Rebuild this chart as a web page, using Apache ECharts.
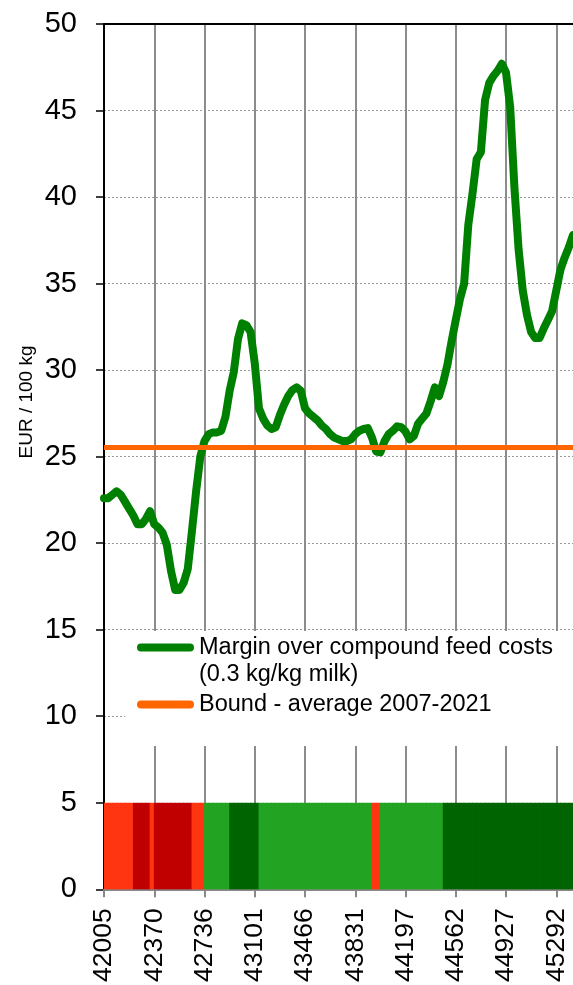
<!DOCTYPE html>
<html>
<head>
<meta charset="utf-8">
<script src="https://cdn.jsdelivr.net/npm/echarts@6/dist/echarts.min.js"></script>
<style>
  html, body { margin: 0; padding: 0; background: #fff; }
  #chart { width: 573px; height: 985px; }
</style>
</head>
<body>
<div id="chart"></div>
<script>
// monthly points, Jan 2015 .. May 2024, labelled with Excel serial dates
const firstYear = 2015;
const monthCount = 113;
const tickLabels = ['42005', '42370', '42736', '43101', '43466', '43831', '44197', '44562', '44927', '45292'];

// EUR / 100 kg
const margin = [
  22.6, 22.6, 22.8, 23.0, 22.8, 22.4, 22.0, 21.6, 21.1, 21.1, 21.4, 21.85,
  21.1, 20.9, 20.6, 19.9, 18.4, 17.3, 17.3, 17.7, 18.5, 20.7, 23.0, 25.0,
  25.9, 26.3, 26.4, 26.4, 26.5, 27.3, 28.8, 29.9, 31.8, 32.7, 32.6, 32.2,
  30.4, 27.8, 27.2, 26.8, 26.6, 26.7, 27.4, 28.0, 28.5, 28.85, 29.0, 28.8,
  27.8, 27.5, 27.3, 27.1, 26.8, 26.6, 26.3, 26.1, 26.0, 25.9, 25.9, 26.0,
  26.3, 26.5, 26.6, 26.65, 26.1, 25.3, 25.25, 25.9, 26.3, 26.5, 26.75, 26.7,
  26.45, 26.0, 26.2, 26.9, 27.2, 27.5, 28.2, 29.0, 28.5, 29.3, 30.3, 31.65,
  32.9, 34.1, 35.0, 38.4, 40.2, 42.2, 42.6, 45.6, 46.6, 47.0, 47.3, 47.7,
  47.2, 45.2, 40.6, 37.0, 34.6, 33.2, 32.2, 31.85, 31.85, 32.4, 32.9, 33.4,
  34.6, 35.8, 36.5, 37.1, 37.8
];
const boundValue = 25.55;

// status band per month: O = below bound, R = far below, G = above, D = far above
const bandStatus = [
  'O','O','O','O','O','O','O','R','R','R','R','O',
  'R','R','R','R','R','R','R','R','R','O','O','O',
  'G','G','G','G','G','G','D','D','D','D','D','D',
  'D','G','G','G','G','G','G','G','G','G','G','G',
  'G','G','G','G','G','G','G','G','G','G','G','G',
  'G','G','G','G','O','O','G','G','G','G','G','G',
  'G','G','G','G','G','G','G','G','G','D','D','D',
  'D','D','D','D','D','D','D','D','D','D','D','D',
  'D','D','D','D','D','D','D','D','D','D','D','D',
  'D','D','D','D'
];
const bandTop = 5;
const statusColors = { O: '#ff3411', R: '#c00000', G: '#22a422', D: '#006400' };

const marginName = 'Margin over compound feed costs (0.3 kg/kg milk)';
const boundName = 'Bound - average 2007-2021';

const FONT = '"Liberation Sans", Arial, sans-serif';

const months = [];
const day0 = Date.UTC(1899, 11, 30);
for (let i = 0; i < monthCount; i++) {
  const d = Date.UTC(firstYear, i, 1);
  months.push(String(Math.round((d - day0) / 86400000)));
}
const isTick = (i, v) => tickLabels.includes(String(v));
const pill = 'path://M4,0 H53 A4,4 0 0 1 53,8 H4 A4,4 0 0 1 4,0 Z';

const chart = echarts.init(document.getElementById('chart'));
chart.setOption({
  animation: false,
  textStyle: { fontFamily: FONT },
  grid: { left: 104, right: 0, top: 24, bottom: 95 },
  xAxis: [
    {
      type: 'category',
      data: months,
      boundaryGap: false,
      axisLine: { lineStyle: { color: '#888', width: 2 } },
      axisTick: { interval: isTick, length: 8, lineStyle: { color: '#888', width: 2 } },
      axisLabel: { interval: isTick, rotate: 90, fontSize: 26.5, color: '#000', margin: 19, fontFamily: FONT },
      splitLine: { show: true, interval: isTick, lineStyle: { color: '#8c8c8c', width: 2 } }
    },
    {
      type: 'category',
      data: bandStatus.map((_, i) => i),
      position: 'top',
      boundaryGap: true,
      axisLine: { show: true, lineStyle: { color: '#000', width: 2 } },
      axisTick: { show: false },
      axisLabel: { show: false },
      splitLine: { show: false }
    }
  ],
  yAxis: {
    type: 'value',
    min: 0,
    max: 50,
    interval: 5,
    axisLine: { show: true, lineStyle: { color: '#000', width: 2 } },
    axisTick: { show: true, length: 8, lineStyle: { color: '#000', width: 1.5 } },
    axisLabel: { fontSize: 29, color: '#000', margin: 27, fontFamily: FONT },
    splitLine: { show: true, lineStyle: { color: '#999', type: [2, 2], width: 1 } }
  },
  legend: {
    orient: 'vertical',
    left: 137,
    top: 607,
    padding: 0,
    itemGap: 3,
    itemWidth: 57,
    itemHeight: 8,
    symbolKeepAspect: false,
    selectedMode: false,
    data: [{ name: marginName, icon: pill }, { name: boundName, icon: pill }],
    formatter: (n) => (n === marginName ? '\n' + n.replace(' (', '\n(') : n),
    textStyle: { fontSize: 23.5, lineHeight: 27, color: '#000', fontFamily: FONT }
  },
  graphic: [
    { type: 'rect', z: 1, silent: true, shape: { x: 125, y: 631, width: 448, height: 115 }, style: { fill: '#fff' } },
    {
      type: 'text', x: 27, y: 402, rotation: Math.PI / 2, silent: true,
      style: { text: 'EUR / 100 kg', fontSize: 19, fontFamily: FONT, fill: '#000', align: 'center', verticalAlign: 'middle' }
    }
  ],
  series: [
    {
      name: 'band',
      type: 'bar',
      xAxisIndex: 1,
      barWidth: 5,
      silent: true,
      data: bandStatus.map((c) => ({
        value: bandTop,
        itemStyle: { color: statusColors[c], opacity: 1, borderWidth: 0, borderRadius: 0 }
      }))
    },
    {
      name: marginName,
      type: 'line',
      data: margin,
      symbol: 'none',
      z: 3,
      itemStyle: { color: '#008000' },
      lineStyle: { color: '#008000', width: 8, join: 'round', cap: 'round' }
    },
    {
      name: boundName,
      type: 'line',
      data: [],
      symbol: 'none',
      z: 4,
      itemStyle: { color: '#ff6600' },
      lineStyle: { color: '#ff6600', width: 5 },
      markLine: {
        silent: true,
        symbol: 'none',
        label: { show: false },
        lineStyle: { color: '#ff6600', width: 5, type: 'solid' },
        data: [{ yAxis: boundValue }]
      }
    }
  ]
});
</script>
</body>
</html>
